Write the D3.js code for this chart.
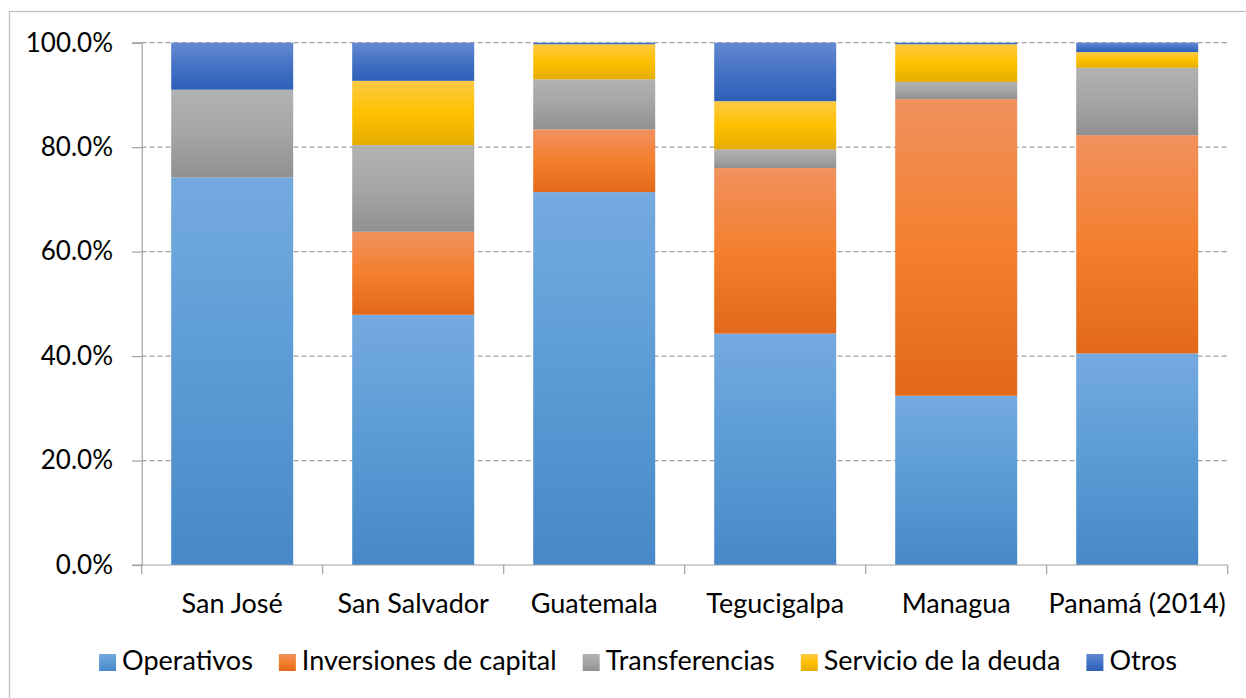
<!DOCTYPE html>
<html>
<head>
<meta charset="utf-8">
<script src="https://cdn.jsdelivr.net/npm/d3@7"></script>
<style>
  html, body { margin: 0; padding: 0; background: #fff; }
  svg { display: block; font-family: Lato, "Open Sans", sans-serif; }
</style>
</head>
<body>
<svg id="chart" width="1246" height="698"></svg>
<script>
// Cities (categories) and the share of each spending type, in percent
const cities = ["San José", "San Salvador", "Guatemala", "Tegucigalpa", "Managua", "Panamá (2014)"];
const seriesNames = ["Operativos", "Inversiones de capital", "Transferencias", "Servicio de la deuda", "Otros"];
const operativos    = [74.2, 47.9, 71.4, 44.3, 32.4, 40.5];
const inversiones   = [0.0, 15.9, 12.0, 31.7, 56.8, 41.8];
const transferencias = [16.8, 16.6, 9.6, 3.6, 3.3, 12.9];
const servicioDeuda = [0.0, 12.3, 6.7, 9.2, 7.2, 3.0];
const otros         = [9.0, 7.3, 0.3, 11.2, 0.3, 1.8];
const yTicks = [0, 20, 40, 60, 80, 100];

// Gradient stops per series: light top, base middle, darker bottom
const seriesColors = [
  ["#74aadf", "#5b9bd5", "#4788c8"],
  ["#f1915e", "#f47f2e", "#e2681a"],
  ["#b2b2b2", "#a5a5a5", "#909090"],
  ["#ffca45", "#ffc000", "#e4ad00"],
  ["#6489d1", "#4472c4", "#2d5fb7"]
];

const seriesValues = [operativos, inversiones, transferencias, servicioDeuda, otros];
const rows = cities.map((c, i) => {
  const r = { city: c };
  seriesNames.forEach((s, k) => { r[s] = seriesValues[k][i]; });
  return r;
});

const svg = d3.select("#chart");

// Outer chart frame
svg.append("rect")
  .attr("x", 9.5).attr("y", 11.5)
  .attr("width", 1260).attr("height", 720)
  .attr("fill", "none").attr("stroke", "#bfbfbf").attr("stroke-width", 1.3);

const plot = { left: 141.7, right: 1227.7, top: 42.7, bottom: 565 };

const x = d3.scaleBand()
  .domain(cities)
  .range([plot.left, plot.right])
  .paddingInner(0.326)
  .paddingOuter(0.163);

const y = d3.scaleLinear()
  .domain([0, 100])
  .range([plot.bottom, plot.top]);

// Gradients
const defs = svg.append("defs");
seriesNames.forEach((s, k) => {
  const g = defs.append("linearGradient")
    .attr("id", "grad" + k)
    .attr("x1", 0).attr("y1", 0).attr("x2", 0).attr("y2", 1);
  g.append("stop").attr("offset", "0%").attr("stop-color", seriesColors[k][0]);
  g.append("stop").attr("offset", "50%").attr("stop-color", seriesColors[k][1]);
  g.append("stop").attr("offset", "100%").attr("stop-color", seriesColors[k][2]);
});

// Dashed gridlines
svg.append("g")
  .selectAll("line")
  .data(yTicks.filter(t => t > 0))
  .join("line")
  .attr("x1", plot.left).attr("x2", plot.right)
  .attr("y1", d => y(d)).attr("y2", d => y(d))
  .attr("stroke", "#a0a0a0")
  .attr("stroke-width", 1.2)
  .attr("stroke-dasharray", "5,3");

// Stacked bars
const stack = d3.stack().keys(seriesNames);
const layers = stack(rows);

svg.append("g")
  .selectAll("g")
  .data(layers)
  .join("g")
  .attr("fill", (d, k) => `url(#grad${k})`)
  .selectAll("rect")
  .data(d => d.filter(p => p[1] - p[0] > 0))
  .join("rect")
  .attr("x", d => x(d.data.city))
  .attr("width", x.bandwidth())
  .attr("y", d => y(d[1]))
  .attr("height", d => y(d[0]) - y(d[1]));

// Y axis
const yAxis = d3.axisLeft(y)
  .tickValues(yTicks)
  .tickSize(9.7)
  .tickPadding(19)
  .tickFormat(d => d3.format(".1f")(d) + "%");

const gy = svg.append("g")
  .attr("transform", `translate(${plot.left},0)`)
  .call(yAxis);
gy.select(".domain").attr("stroke", "#a0a0a0").attr("stroke-width", 1.2);
gy.selectAll(".tick line").attr("stroke", "#a0a0a0").attr("stroke-width", 1.2);
gy.selectAll(".tick text")
  .attr("fill", "#000")
  .style("font-family", "Lato, sans-serif")
  .style("font-size", "26px");

// X axis with ticks at category boundaries
const gx = svg.append("g")
  .attr("transform", `translate(0,${plot.bottom})`);
gx.append("line")
  .attr("x1", plot.left - 9.7).attr("x2", plot.right)
  .attr("stroke", "#a0a0a0").attr("stroke-width", 1.2);
const boundaries = d3.range(cities.length + 1).map(i => plot.left + i * x.step());
gx.selectAll(".bt")
  .data(boundaries)
  .join("line")
  .attr("class", "bt")
  .attr("x1", d => d).attr("x2", d => d)
  .attr("y1", 0).attr("y2", 9)
  .attr("stroke", "#a0a0a0").attr("stroke-width", 1.2);
gx.selectAll("text")
  .data(cities)
  .join("text")
  .attr("x", d => x(d) + x.bandwidth() / 2)
  .attr("y", 47.5)
  .attr("text-anchor", "middle")
  .style("font-size", "27px")
  .attr("fill", "#000")
  .text(d => d);

// Legend
const legend = svg.append("g");
const items = legend.selectAll("g")
  .data(seriesNames)
  .join("g");
items.append("rect")
  .attr("width", 17).attr("height", 17)
  .attr("y", -16)
  .attr("fill", (d, k) => `url(#grad${k})`);
items.append("text")
  .attr("x", 23)
  .attr("y", 0)
  .style("font-size", "27px")
  .attr("fill", "#000")
  .text(d => d);

// Position legend items in one centred row
const gap = 26;
let offset = 0;
const positions = [];
items.each(function () {
  const w = 23 + this.querySelector("text").getComputedTextLength();
  positions.push(offset);
  offset += w + gap;
});
const total = offset - gap;
const startX = 638 - total / 2;
items.attr("transform", (d, i) => `translate(${startX + positions[i]},670)`);
</script>
</body>
</html>
